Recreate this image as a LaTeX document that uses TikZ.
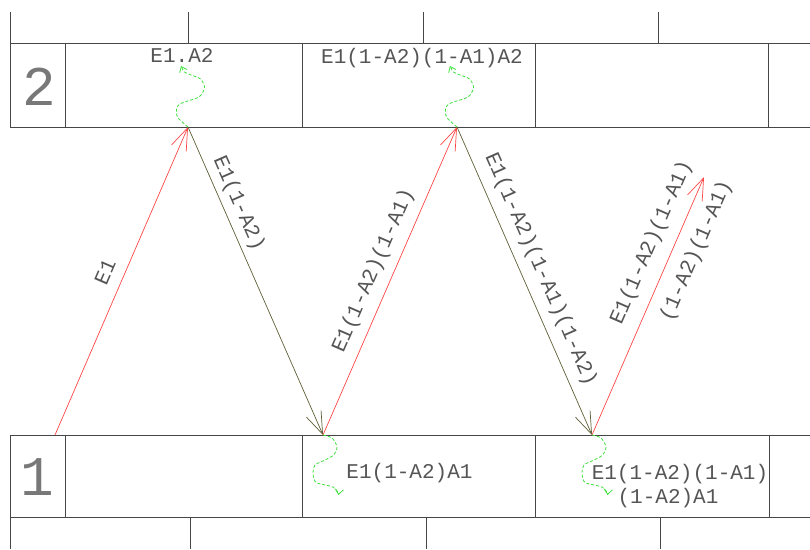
\documentclass[tikz,border=0pt]{standalone}
\usepackage{fontspec}
\setmonofont{Liberation Mono}
\usetikzlibrary{arrows.meta}
\definecolor{gridc}{RGB}{70,70,70}
\definecolor{redc}{RGB}{255,70,70}
\definecolor{olivec}{RGB}{95,95,55}
\definecolor{greenc}{RGB}{60,225,60}
\definecolor{textc}{RGB}{85,85,85}
\definecolor{bigc}{RGB}{120,120,120}
\begin{document}
\begin{tikzpicture}[x=1pt,y=-1pt,
  gridline/.style={draw=gridc, line width=0.8pt},
  redarrow/.style={draw=redc, line width=0.7pt, -{Straight Barb[length=22pt,width=16pt]}},
  olivearrow/.style={draw=olivec, line width=0.7pt, -{Straight Barb[length=22pt,width=16pt]}},
  wavy/.style={draw=greenc, line width=0.8pt, dash pattern=on 3pt off 2pt, -{Straight Barb[length=5pt,width=8pt]}},
  lbl/.style={font=\ttfamily\fontsize{21}{21}\selectfont, text=textc, inner sep=0pt, text height=14pt, text depth=0pt, anchor=center},
  big/.style={font=\ttfamily\fontsize{56}{56}\selectfont, text=bigc, inner sep=0pt, text height=37pt, text depth=0pt, anchor=center}
]
\useasboundingbox (0,0) rectangle (810,549);
\fill[white] (0,0) rectangle (810,549);

% top stubs
\foreach \x in {10,188,423,658} \draw[gridline] (\x,12) -- (\x,43);
% row 2
\draw[gridline] (10,43) -- (810,43);
\draw[gridline] (10,127) -- (810,127);
\foreach \x in {10,65,302,535,768} \draw[gridline] (\x,43) -- (\x,127);
% row 1
\draw[gridline] (10,435) -- (810,435);
\draw[gridline] (10,517) -- (810,517);
\foreach \x in {10,65,302,535,769} \draw[gridline] (\x,435) -- (\x,517);
% bottom stubs
\foreach \x in {10,190,426,660} \draw[gridline] (\x,517) -- (\x,549);

\node[big] (n2) at (39,86.5) {2};
\node[big] (n1) at (37.5,477) {1};

% arrow end points
\coordinate (s0) at (55,435);
\coordinate (t1) at (188,127);
\coordinate (b1) at (323,435);
\coordinate (t2) at (457,127);
\coordinate (b2) at (592,435);
\coordinate (e3) at (704,177);

\draw[redarrow] (s0) -- (t1);
\draw[olivearrow] (t1) -- (b1);
\draw[redarrow] (b1) -- (t2);
\draw[olivearrow] (t2) -- (b2);
\draw[redarrow] (b2) -- (e3);

% green wavy arrows
\draw[wavy, shift={(t1)}] plot[smooth] coordinates {(0,0) (-10.5,-10) (-11,-20) (-5,-24.5) (11,-30) (16.5,-39.5) (12.5,-48) (3,-52) (-3.5,-55) (-7,-61)};
\draw[wavy, shift={(t2)}] plot[smooth] coordinates {(0,0) (-10.5,-10) (-11,-20) (-5,-24.5) (11,-30) (16.5,-39.5) (12.5,-48) (3,-52) (-3.5,-55) (-7,-61)};
\draw[wavy, shift={(b1)}] plot[smooth] coordinates {(0,0) (9,3) (14,12) (10.5,20) (2,25) (-8,30) (-10,38) (-7.5,47) (2,50) (10,52) (15,57) (15.5,60)};
\draw[wavy, shift={(b2)}] plot[smooth] coordinates {(0,0) (9,3) (14,12) (10.5,20) (2,25) (-8,30) (-10,38) (-7.5,47) (2,50) (10,52) (15,57) (15.5,60)};

% arrow labels
\node[lbl, rotate=66.65] (l1) at (105,272) {E1};
\node[lbl, rotate=-66.33] (l2) at (240,203) {E1(1-A2)};
\node[lbl, rotate=66.5] (l3) at (372,270) {E1(1-A2)(1-A1)};
\node[lbl, rotate=-66.33] (l4) at (542,269) {E1(1-A2)(1-A1)(1-A2)};
\node[lbl, rotate=66.54] (l5) at (650,242) {E1(1-A2)(1-A1)};
\node[lbl, rotate=66.54] (l6) at (695,250) {(1-A2)(1-A1)};

% cell texts
\node[lbl] (c1) at (182,55) {E1.A2};
\node[lbl] (c2) at (422,56.5) {E1(1-A2)(1-A1)A2};
\node[lbl] (c3) at (409.5,471.5) {E1(1-A2)A1};
\node[lbl] (c4) at (680,472) {E1(1-A2)(1-A1)};
\node[lbl] (c5) at (668,496) {(1-A2)A1};
\end{tikzpicture}
\end{document}
